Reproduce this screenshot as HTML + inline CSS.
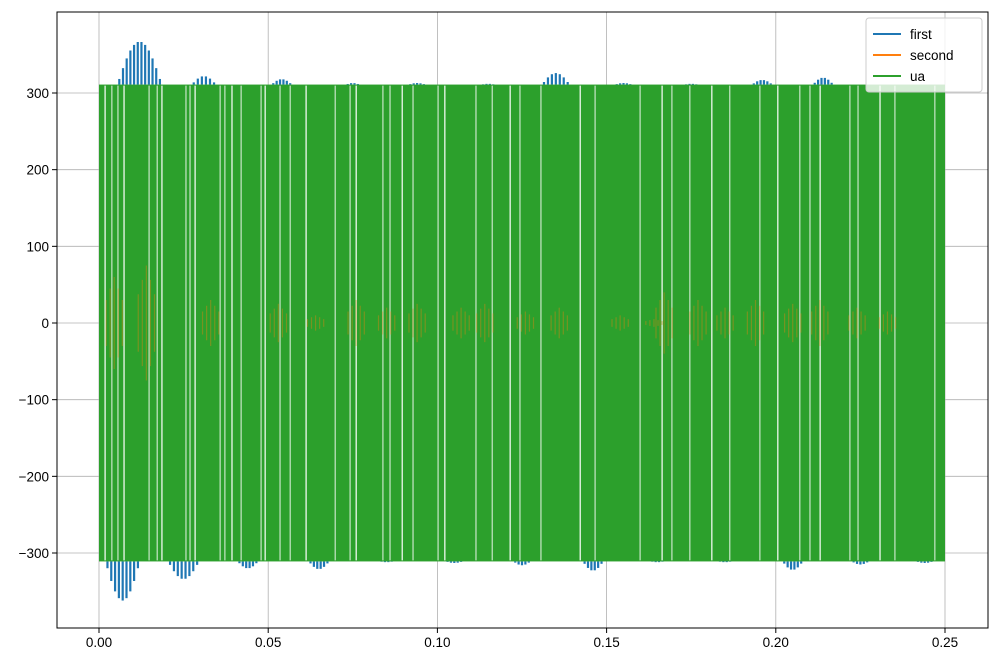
<!DOCTYPE html>
<html><head><meta charset="utf-8"><style>
body{margin:0;background:#fff;font-family:"Liberation Sans","DejaVu Sans",sans-serif}
</style></head><body>
<svg id="c" width="1001" height="663" xmlns="http://www.w3.org/2000/svg"></svg>
<script>
const xTicks=[0,0.05,0.10,0.15,0.20,0.25];
const xTickLabels=["0.00","0.05","0.10","0.15","0.20","0.25"];
const yTicks=[-300,-200,-100,0,100,200,300];
const yTickLabels=["\u2212300","\u2212200","\u2212100","0","100","200","300"];
const uaAmp=311;
const tStart=0, tEnd=0.25;
const gapTimes=[0.0018,0.0038,0.0056,0.0074,0.0148,0.0172,0.0186,0.0257,0.0269,0.0284,0.0358,0.0372,0.0393,0.0420,0.0479,0.0491,0.0535,0.0565,0.0612,0.0698,0.0742,0.0760,0.0839,0.0860,0.0896,0.0928,0.1002,0.1022,0.1114,0.1162,0.1215,0.1244,0.1306,0.1422,0.1466,0.1599,0.1664,0.1693,0.1746,0.1811,0.1864,0.1953,0.2006,0.2071,0.2101,0.2131,0.2219,0.2243,0.2308,0.2352,0.2470];
const blueTopT=[0.012,0.031,0.054,0.075,0.094,0.115,0.135,0.155,0.175,0.196,0.214];
const blueTopPeak=[367,322,318,313,313,312,326,313,312,317,320];
const blueTopW=[0.012,0.006,0.005,0.003,0.004,0.003,0.007,0.004,0.003,0.005,0.005];
const blueBotT=[0.007,0.025,0.044,0.065,0.085,0.105,0.125,0.146,0.165,0.185,0.205,0.225,0.244];
const blueBotPeak=[-362,-334,-320,-321,-312,-313,-316,-323,-312,-312,-322,-315,-313];
const blueBotW=[0.009,0.008,0.005,0.005,0.003,0.004,0.004,0.005,0.003,0.003,0.005,0.004,0.004];
const orangeT=[0.0045,0.014,0.033,0.053,0.064,0.076,0.085,0.094,0.107,0.114,0.126,0.136,0.154,0.164,0.167,0.177,0.185,0.194,0.205,0.213,0.224,0.233];
const orangeAmp=[60,75,30,25,10,30,20,25,20,25,15,20,10,5,40,30,20,30,25,30,20,15];

const L=57,R=988,T=12,B=628;
const X=t=>99+(t-tStart)/(tEnd-tStart)*846;
const Y=v=>323-v*0.76667;
const svg=document.getElementById('c');
const NS="http://www.w3.org/2000/svg";
function mk(tag,a,p){const e=document.createElementNS(NS,tag);for(const k in a)e.setAttribute(k,a[k]);(p||svg).appendChild(e);return e;}

xTicks.forEach(t=>{const g=mk('line',{x1:X(t),x2:X(t),y1:T,y2:B,stroke:'#b0b0b0','stroke-width':0.8});

});
yTicks.forEach(v=>{const g=mk('line',{x1:L,x2:R,y1:Y(v),y2:Y(v),stroke:'#b0b0b0','stroke-width':0.8});

});

function spikes(ts,ps,ws,sign){
 ts.forEach((t,i)=>{const w=ws[i],p=ps[i];const n=Math.max(2,Math.round(w/0.0011));
  for(let k=0;k<=n;k++){const tt=t-w/2+k*w/n;const env=Math.sin(Math.PI*(k+0.5)/(n+1));
   const v=sign*uaAmp+(p-sign*uaAmp)*env;
   const s=mk('line',{x1:X(tt),x2:X(tt),y1:Y(sign*uaAmp),y2:Y(v),stroke:'#1f77b4','stroke-width':2.2});
   
   }});
}
spikes(blueTopT,blueTopPeak,blueTopW,1);
spikes(blueBotT,blueBotPeak,blueBotW,-1);

const ua=mk('rect',{x:X(tStart),y:Y(uaAmp),width:X(tEnd)-X(tStart),height:Y(-uaAmp)-Y(uaAmp),fill:'#2ca02c'});


gapTimes.forEach((t,i)=>{const g=mk('line',{x1:X(t),x2:X(t),y1:Y(uaAmp)+1,y2:Y(-uaAmp)-1,stroke:i%3==0?'#ffffff':'#c8e6c8','stroke-width':1.2});
 
 });
orangeT.forEach((t,i)=>{const a=orangeAmp[i];
 for(let k=-2;k<=2;k++){const e=1-Math.abs(k)*0.25;
  const s=mk('line',{x1:X(t+k*0.0012),x2:X(t+k*0.0012),y1:Y(a*e),y2:Y(-a*e),stroke:'#ff7f0e','stroke-width':1.2,opacity:0.35});
  
  }});

const fr=mk('rect',{x:L,y:T,width:R-L,height:B-T,fill:'none',stroke:'#000','stroke-width':1});


xTicks.forEach((t,i)=>{mk('line',{x1:X(t),x2:X(t),y1:B,y2:B+5,stroke:'#000'});
 const tx=mk('text',{x:X(t),y:B+19,'text-anchor':'middle','font-size':13.5,fill:'#000'});tx.textContent=xTickLabels[i];
 
 });
yTicks.forEach((v,i)=>{mk('line',{x1:L-5,x2:L,y1:Y(v),y2:Y(v),stroke:'#000'});
 const tx=mk('text',{x:L-8,y:Y(v)+5,'text-anchor':'end','font-size':13.5,fill:'#000'});tx.textContent=yTickLabels[i];
 
 });

const lg=mk('g',{});


mk('rect',{x:866,y:18,width:116,height:74,rx:3,fill:'#fff','fill-opacity':0.8,stroke:'#ccc'},lg);
[['first','#1f77b4'],['second','#ff7f0e'],['ua','#2ca02c']].forEach((d,i)=>{const y=34+i*21;
 mk('line',{x1:873,x2:901,y1:y,y2:y,stroke:d[1],'stroke-width':2},lg);
 const tx=mk('text',{x:910,y:y+5,'font-size':13.5,fill:'#000'},lg);tx.textContent=d[0];
 
 });
</script>
</body></html>
